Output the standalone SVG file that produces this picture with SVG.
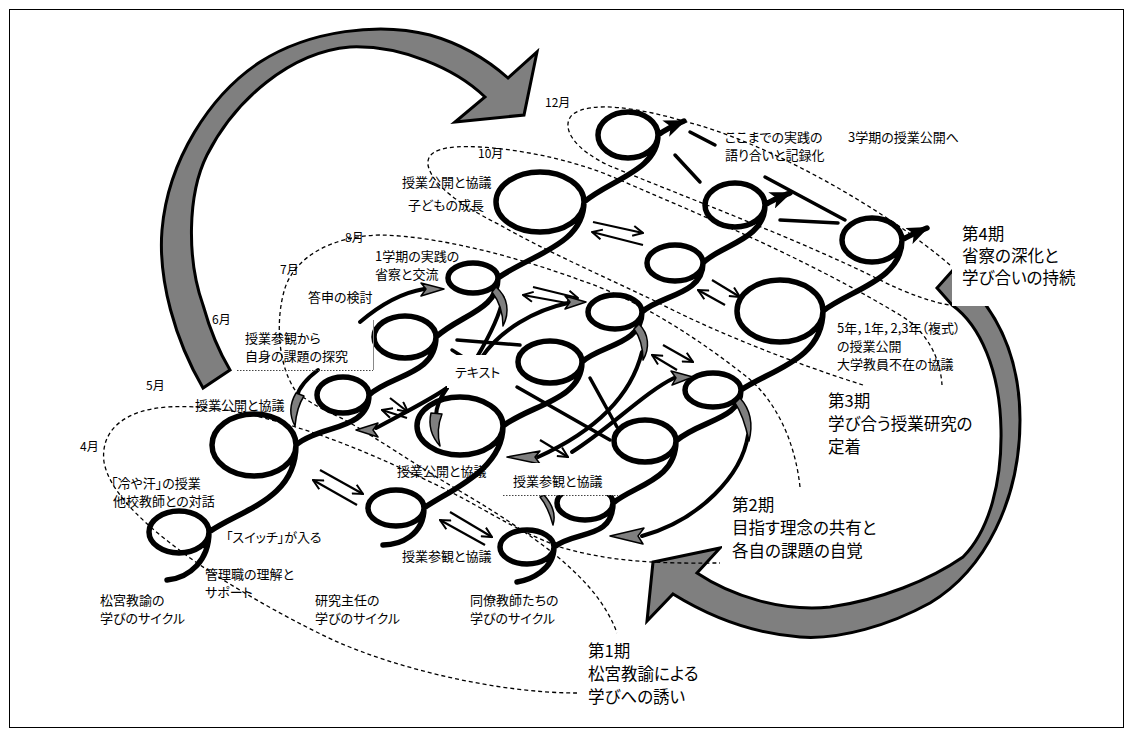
<svg xmlns="http://www.w3.org/2000/svg" width="1132" height="735" viewBox="0 0 1132 735">
<style>
.c{fill:none;stroke:#000;stroke-width:5.5;stroke-linecap:round;stroke-linejoin:round}
.e{fill:none;stroke:#000;stroke-width:4;stroke-linecap:round}
.l{stroke:#000;stroke-width:3.5;stroke-linecap:round}
.x{stroke:#000;stroke-width:2.2;marker-end:url(#vh)}
.d{fill:none;stroke:#000;stroke-width:1.3;stroke-dasharray:4 3}
.g{fill:#7f7f7f;stroke:#000;stroke-width:1.5;stroke-linejoin:round}
.big{fill:#7f7f7f;stroke:#000;stroke-width:3;stroke-linejoin:miter}
.wb{fill:#fff;stroke:none}
text{font-family:"Noto Sans CJK JP","Noto Sans",sans-serif;font-feature-settings:"palt";fill:#000}
.s{font-size:13px}.m{font-size:12px}.p{font-size:16.5px}
</style>
<defs>
<marker id="tri" markerUnits="userSpaceOnUse" viewBox="0 0 20 16" markerWidth="22" markerHeight="18" refX="18" refY="8" orient="auto"><path d="M0,0 L20,8 L0,16 L5,8 Z" fill="#000"/></marker>
<marker id="vh" markerUnits="userSpaceOnUse" viewBox="0 0 12 12" markerWidth="12" markerHeight="12" refX="11" refY="6" orient="auto"><path d="M1,1 L11,6 L1,11" fill="none" stroke="#000" stroke-width="2"/></marker>
</defs>
<rect x="0" y="0" width="1132" height="735" fill="#fff"/>
<rect x="9.5" y="9.5" width="1114" height="718" fill="none" stroke="#000" stroke-width="1"/>

<g id="big-arrows">
<path class="big" d="M 203,388 C 175,340 158,280 162,230 C 168,160 210,95 260,62 C 310,30 380,22 430,35 C 465,45 490,62 508,78 L 537,52 L 524,115 L 455,122 L 485,97 C 455,68 400,45 350,47 C 290,52 235,100 207,155 C 187,195 187,260 203,305 C 210,330 218,350 230,370 Z"/>
<path class="big" d="M 937,288 L 953,270 C 995,305 1020,355 1020,420 C 1020,500 985,570 930,603 C 890,625 840,640 800,637 C 760,634 715,620 673,594 L 647,621 L 653,562 L 720,548 L 697,573 C 730,595 780,612 830,607 C 880,600 930,580 963,557 C 990,530 1002,480 1001,430 C 1000,370 980,325 952,305 Z"/>
</g>

<g id="periods-dashed">
<path class="d" d="M 577,693 C 500,693 400,670 333,640 C 280,615 230,585 200,565 C 150,530 110,495 104,462 C 100,430 125,410 167,407 C 220,404 270,418 320,435 C 360,449 400,467 447,490 C 490,512 515,530 560,547 C 620,565 680,563 720,563"/>
<path class="d" d="M 800,487 C 795,440 775,400 747,377 C 700,340 640,300 580,280 C 520,258 440,236 380,235 C 330,236 295,258 285,288 C 275,320 278,365 295,390 C 310,405 330,412 345,420 C 380,440 423,470 470,497 C 500,515 530,535 553,553 C 580,575 605,600 617,633"/>
<path class="d" d="M 863,385 C 800,365 720,335 653,300 C 600,275 540,248 500,225 C 460,205 432,185 428,165 C 426,150 445,145 480,147 C 530,150 580,163 613,177 C 700,215 800,255 900,315 C 925,330 940,355 942,385"/>
<path class="d" d="M 950,265 C 880,205 760,140 687,122 C 640,108 590,100 572,115 C 560,128 575,150 610,166 C 680,195 800,240 880,280 C 910,295 935,303 950,305"/>
</g>

<g id="cycle-matsumiya">
<path class="c" marker-end="url(#tri)" d="M 167,580 C 190,578 209,560 209,532 A 30 21 0 1 0 149,532 A 30 21 0 1 0 209,532 C 240,510 296,500 296,445 A 42 31 0 1 0 212,445 A 42 31 0 1 0 296,445 C 320,425 369,430 369,395 A 26 18 0 1 0 317,395 A 26 18 0 1 0 369,395 C 390,375 436,375 436,337 A 31 21 0 1 0 374,337 A 31 21 0 1 0 436,337 C 460,315 498,310 498,278 A 25 15 0 1 0 448,278 A 25 15 0 1 0 498,278 C 530,255 584,245 584,202 A 44 30 0 1 0 496,202 A 44 30 0 1 0 584,202 C 610,180 658,170 658,135 A 30 23 0 1 0 598,135 A 30 23 0 1 0 658,135 C 665,130 672,126 684,121"/>
</g>
<g id="cycle-kenkyu">
<path class="c" marker-end="url(#tri)" d="M 383,545 C 400,545 424,535 424,508 A 28 18 0 1 0 368,508 A 28 18 0 1 0 424,508 C 450,490 503,470 503,426 A 43 29 0 1 0 417,426 A 43 29 0 1 0 503,426 C 530,405 582,400 582,362 A 32 21 0 1 0 518,362 A 32 21 0 1 0 582,362 C 600,345 642,345 642,312 A 27 17 0 1 0 588,312 A 27 17 0 1 0 642,312 C 660,295 703,295 703,263 A 28 18 0 1 0 647,263 A 28 18 0 1 0 703,263 C 720,245 765,240 765,205 A 30 22 0 1 0 705,205 A 30 22 0 1 0 765,205 C 772,200 780,197 790,193"/>
</g>
<g id="cycle-douryou">
<path class="c" marker-end="url(#tri)" d="M 517,582 C 530,580 554,570 554,547 A 27 17 0 1 0 500,547 A 27 17 0 1 0 554,547 C 575,530 613,540 613,503 A 28 17 0 1 0 557,503 A 28 17 0 1 0 613,503 C 635,485 676,480 676,441 A 31 21 0 1 0 614,441 A 31 21 0 1 0 676,441 C 700,420 741,420 741,390 A 28 17 0 1 0 685,390 A 28 17 0 1 0 741,390 C 770,370 823,360 823,311 A 43 31 0 1 0 737,311 A 43 31 0 1 0 823,311 C 850,290 902,280 902,240 A 30 22 0 1 0 842,240 A 30 22 0 1 0 902,240 C 910,235 918,232 927,228"/>
</g>

<g id="connectors">
<line class="l" x1="690" y1="132" x2="715" y2="145"/>
<line class="l" x1="675" y1="155" x2="700" y2="182"/>
<line class="l" x1="765" y1="177" x2="845" y2="220"/>
<line class="l" x1="780" y1="220" x2="838" y2="223"/>
<line class="l" x1="457" y1="340" x2="520" y2="345"/>
<line class="l" x1="452" y1="350" x2="463" y2="357"/>
<line class="l" x1="517" y1="387" x2="610" y2="440"/>
<line class="l" x1="590" y1="378" x2="617" y2="427"/>
<line class="x" x1="320" y1="470" x2="363" y2="494"/>
<line class="x" x1="357" y1="505" x2="313" y2="480"/>
<line class="x" x1="390" y1="398" x2="408" y2="412"/>
<line class="x" x1="407" y1="418" x2="382" y2="410"/>
<line class="x" x1="450" y1="512" x2="492" y2="537"/>
<line class="x" x1="485" y1="545" x2="440" y2="520"/>
<line class="x" x1="533" y1="287" x2="578" y2="298"/>
<line class="x" x1="567" y1="303" x2="523" y2="295"/>
<line class="x" x1="593" y1="222" x2="643" y2="233"/>
<line class="x" x1="643" y1="245" x2="592" y2="232"/>
<line class="x" x1="663" y1="345" x2="693" y2="362"/>
<line class="x" x1="677" y1="370" x2="652" y2="355"/>
<line class="x" x1="712" y1="280" x2="740" y2="297"/>
<line class="x" x1="725" y1="305" x2="698" y2="290"/>
<line class="x" x1="540" y1="440" x2="568" y2="457"/>
<path class="e" d="M 360,322 C 380,305 400,293 424,289"/>
<path class="e" d="M 477,357 C 490,335 500,315 503,298"/>
<path class="e" d="M 482,357 C 500,330 535,310 568,303"/>
<path class="e" d="M 447,388 C 440,398 436,408 436,416"/>
<path class="e" d="M 447,388 C 430,400 400,415 376,428"/>
<path class="e" d="M 642,352 C 632,392 602,428 538,457"/>
<path class="e" d="M 572,452 C 610,428 645,392 674,378"/>
<path class="e" d="M 748,435 C 742,475 700,520 642,536"/>
<path class="e" d="M 318,370 C 305,380 299,388 297,396"/>
<path class="g" d="M 421,283 L 444,289 L 421,296 L 426,289 Z"/>
<path class="g" d="M 496,287 C 508,297 510,312 503,326 C 503,313 499,301 492,292 Z"/>
<path class="g" d="M 565,296 L 586,302 L 565,309 L 570,302 Z"/>
<path class="g" d="M 431,413 C 428,426 431,436 440,446 C 437,434 438,424 442,414 Z"/>
<path class="g" d="M 639,324 C 649,334 650,348 643,360 C 643,348 640,337 634,329 Z"/>
<path class="g" d="M 540,451 L 507,457 L 540,464 L 535,457 Z"/>
<path class="g" d="M 671,371 L 693,377 L 672,385 L 676,378 Z"/>
<path class="g" d="M 544,495 C 553,505 556,515 553,525 C 550,514 546,504 540,497 Z"/>
<path class="g" d="M 644,528 L 610,536 L 643,544 L 638,536 Z"/>
<path class="g" d="M 740,398 C 751,410 753,425 749,441 C 746,427 742,413 735,403 Z"/>
<path class="g" d="M 296,393 C 289,405 289,415 295,426 C 296,415 298,405 304,396 Z"/>
<path class="g" d="M 378,423 L 356,430 L 378,437 L 373,430 Z"/>
</g>

<g id="label-boxes">
<rect class="wb" x="447" y="355" width="65" height="33"/>
<rect class="wb" x="503" y="463" width="115" height="32"/>
<line x1="503" y1="495.5" x2="618" y2="495.5" stroke="#444" stroke-width="1" stroke-dasharray="1.5 1.5"/>
<line x1="373.5" y1="320" x2="373.5" y2="370" stroke="#888" stroke-width="1"/>
<line x1="237" y1="370.5" x2="373" y2="370.5" stroke="#444" stroke-width="1" stroke-dasharray="1.5 1.5"/>
<rect class="wb" x="952" y="216" width="128" height="90"/>
<rect class="wb" x="822" y="386" width="168" height="74"/>
<rect class="wb" x="722" y="490" width="168" height="76"/>
<rect class="wb" x="583" y="636" width="137" height="72"/>
</g>

<g id="months">
<text class="m" x="545" y="107">12月</text>
<text class="m" x="478" y="158">10月</text>
<text class="m" x="345" y="242">8月</text>
<text class="m" x="280" y="274">7月</text>
<text class="m" x="212" y="324">6月</text>
<text class="m" x="146" y="390">5月</text>
<text class="m" x="80" y="451">4月</text>
</g>

<g id="notes">
<text class="s" x="195" y="410">授業公開と協議</text>
<text class="s" x="111" y="488">「冷や汗」の授業</text>
<text class="s" x="113" y="506">他校教師との対話</text>
<text class="s" x="226" y="542">「スイッチ」が入る</text>
<text class="s" x="205" y="579">管理職の理解と</text>
<text class="s" x="205" y="597">サポート</text>
<text class="s" x="402" y="561">授業参観と協議</text>
<text class="s" x="397" y="476">授業公開と協議</text>
<text class="s" x="513" y="486">授業参観と協議</text>
<text class="s" x="455" y="377">テキスト</text>
<text class="s" x="308" y="302">答申の検討</text>
<text class="s" x="245" y="343">授業参観から</text>
<text class="s" x="245" y="361">自身の課題の探究</text>
<text class="s" x="375" y="261">1学期の実践の</text>
<text class="s" x="375" y="279">省察と交流</text>
<text class="s" x="402" y="187">授業公開と協議</text>
<text class="s" x="408" y="210">子どもの成長</text>
<text class="s" x="725" y="142">ここまでの実践の</text>
<text class="s" x="725" y="160">語り合いと記録化</text>
<text class="s" x="848" y="142">3学期の授業公開へ</text>
<text class="s" x="837" y="333">5年，1年，2,3年（複式）</text>
<text class="s" x="837" y="351">の授業公開</text>
<text class="s" x="837" y="369">大学教員不在の協議</text>
</g>

<g id="cycle-labels">
<text class="s" x="100" y="605">松宮教諭の</text>
<text class="s" x="100" y="623">学びのサイクル</text>
<text class="s" x="315" y="605">研究主任の</text>
<text class="s" x="315" y="623">学びのサイクル</text>
<text class="s" x="470" y="605">同僚教師たちの</text>
<text class="s" x="470" y="623">学びのサイクル</text>
</g>

<g id="period-4">
<text class="p" x="962" y="240">第4期</text>
<text class="p" x="962" y="262">省察の深化と</text>
<text class="p" x="962" y="284">学び合いの持続</text>
</g>
<g id="period-3">
<text class="p" x="828" y="407">第3期</text>
<text class="p" x="828" y="430">学び合う授業研究の</text>
<text class="p" x="828" y="453">定着</text>
</g>
<g id="period-2">
<text class="p" x="732" y="511">第2期</text>
<text class="p" x="732" y="534">目指す理念の共有と</text>
<text class="p" x="732" y="557">各自の課題の自覚</text>
</g>
<g id="period-1">
<text class="p" x="588" y="657">第1期</text>
<text class="p" x="588" y="680">松宮教諭による</text>
<text class="p" x="588" y="703">学びへの誘い</text>
</g>
</svg>
